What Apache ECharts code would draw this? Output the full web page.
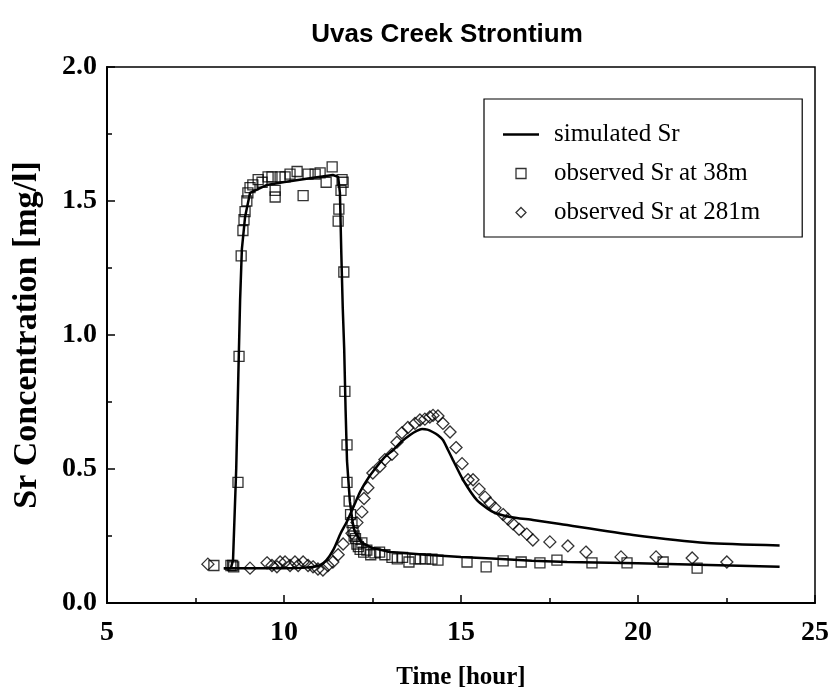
<!DOCTYPE html>
<html>
<head>
<meta charset="utf-8">
<script src="https://cdn.jsdelivr.net/npm/echarts@6/dist/echarts.min.js"></script>
<style>
  html, body { margin: 0; padding: 0; background: #fff; }
  #chart { width: 838px; height: 695px; }
</style>
</head>
<body>
<div id="chart"></div>
<script>
// simulated Sr at 38m
const sim38X = [8.3, 8.5, 8.56, 8.65, 8.71, 8.76, 8.81, 8.9, 9.04, 9.52, 9.97, 10.73, 11.38, 11.53, 11.58, 11.62, 11.66, 11.7, 11.74, 11.78, 11.86, 11.94, 12.0, 12.2, 12.5, 13.0, 14.0, 15.0, 16.0, 17.0, 18.0, 20.0, 22.0, 24.0]
const sim38Y = [0.13, 0.13, 0.16, 0.5, 0.85, 1.13, 1.32, 1.44, 1.53, 1.56, 1.57, 1.585, 1.597, 1.59, 1.53, 1.3, 1.1, 0.95, 0.72, 0.53, 0.38, 0.3, 0.265, 0.225, 0.205, 0.19, 0.18, 0.172, 0.165, 0.158, 0.153, 0.148, 0.142, 0.135]

// simulated Sr at 281m
const sim281X = [8.3, 10.0, 10.6, 11.0, 11.2, 11.4, 11.6, 11.8, 12.0, 12.15, 12.4, 12.63, 12.85, 13.08, 13.3, 13.56, 13.75, 13.9, 14.05, 14.2, 14.35, 14.49, 14.63, 14.77, 15.06, 15.45, 15.9, 16.38, 17.03, 17.8, 19.86, 21.95, 24.0]
const sim281Y = [0.13, 0.13, 0.132, 0.14, 0.16, 0.2, 0.26, 0.31, 0.37, 0.415, 0.47, 0.51, 0.545, 0.57, 0.6, 0.627, 0.642, 0.649, 0.647, 0.638, 0.626, 0.608, 0.572, 0.534, 0.459, 0.384, 0.34, 0.321, 0.31, 0.295, 0.254, 0.224, 0.215]

// observed Sr at 38m
const obs38X = [8.02, 8.5, 8.55, 8.58, 8.70, 8.73, 8.79, 8.84, 8.87, 8.90, 8.95, 8.98, 9.04, 9.12, 9.27, 9.38, 9.55, 9.66, 9.75, 9.75, 9.89, 10.03, 10.17, 10.37, 10.54, 10.68, 10.88, 11.02, 11.19, 11.36, 11.53, 11.55, 11.61, 11.64, 11.67, 11.69, 11.72, 11.78, 11.78, 11.84, 11.88, 11.92, 11.95, 11.98, 12.02, 12.06, 12.1, 12.15, 12.2, 12.25, 12.34, 12.45, 12.57, 12.7, 12.85, 13.05, 13.2, 13.35, 13.53, 13.7, 13.85, 14.0, 14.18, 14.35, 15.17, 15.71, 16.19, 16.7, 17.23, 17.71, 18.7, 19.69, 20.71, 21.67]
const obs38Y = [0.14, 0.14, 0.14, 0.135, 0.45, 0.92, 1.295, 1.39, 1.43, 1.46, 1.50, 1.53, 1.55, 1.56, 1.58, 1.57, 1.59, 1.59, 1.54, 1.515, 1.59, 1.59, 1.60, 1.61, 1.52, 1.60, 1.60, 1.605, 1.57, 1.627, 1.425, 1.47, 1.54, 1.58, 1.57, 1.235, 0.79, 0.59, 0.45, 0.38, 0.33, 0.3, 0.27, 0.25, 0.24, 0.22, 0.21, 0.2, 0.224, 0.19, 0.197, 0.18, 0.187, 0.19, 0.18, 0.17, 0.165, 0.17, 0.153, 0.165, 0.165, 0.165, 0.164, 0.16, 0.153, 0.135, 0.157, 0.153, 0.15, 0.16, 0.15, 0.15, 0.153, 0.13]

// observed Sr at 281m
const obs281X = [7.85, 9.04, 9.52, 9.66, 9.8, 9.89, 10.03, 10.17, 10.31, 10.4, 10.54, 10.68, 10.82, 10.96, 11.1, 11.24, 11.38, 11.53, 11.67, 11.92, 12.06, 12.2, 12.26, 12.37, 12.51, 12.71, 12.85, 13.05, 13.19, 13.33, 13.5, 13.7, 13.84, 13.98, 14.12, 14.21, 14.35, 14.49, 14.69, 14.86, 15.03, 15.2, 15.34, 15.51, 15.68, 15.82, 15.96, 16.19, 16.33, 16.47, 16.64, 16.86, 17.03, 17.51, 18.02, 18.53, 19.52, 20.51, 21.53, 22.51]
const obs281Y = [0.145, 0.13, 0.15, 0.14, 0.135, 0.153, 0.153, 0.14, 0.153, 0.14, 0.153, 0.14, 0.135, 0.127, 0.123, 0.14, 0.153, 0.18, 0.22, 0.26, 0.30, 0.34, 0.39, 0.43, 0.485, 0.51, 0.535, 0.555, 0.60, 0.635, 0.655, 0.67, 0.683, 0.686, 0.694, 0.70, 0.698, 0.67, 0.638, 0.58, 0.52, 0.46, 0.46, 0.425, 0.395, 0.373, 0.355, 0.33, 0.313, 0.295, 0.275, 0.257, 0.235, 0.228, 0.213, 0.19, 0.172, 0.172, 0.168, 0.153]

const pairs = (xs, ys) => xs.map((x, i) => [x, ys[i]])

const serif = 'Liberation Serif'
const hollow = { color: 'rgba(0,0,0,0)', borderColor: '#000', borderWidth: 1.3 }

const chart = echarts.init(document.getElementById('chart'))
chart.setOption({
  animation: false,
  backgroundColor: '#fff',
  title: {
    text: 'Uvas Creek Strontium',
    left: 442,
    top: 17,
    textAlign: 'center',
    textStyle: { fontFamily: 'Liberation Sans', fontWeight: 'bold', fontSize: 26, color: '#000' }
  },
  grid: {
    left: 107, right: 23, top: 67, bottom: 92,
    show: true, borderColor: '#000', borderWidth: 1.5
  },
  legend: {
    orient: 'vertical',
    left: 484, top: 99,
    padding: [23, 42, 12, 19],
    itemGap: 14,
    itemWidth: 36,
    itemHeight: 10,
    borderColor: '#000',
    borderWidth: 1.2,
    textStyle: { fontFamily: serif, fontSize: 25, color: '#000', padding: [0, 0, 0, 10] },
    data: [
      { name: 'simulated Sr', icon: 'path://M0,0L38,0L38,2.6L0,2.6Z', itemStyle: { color: '#000', borderWidth: 0 } },
      { name: 'observed Sr at 38m', icon: 'path://M0,0L9,0L9,9L0,9Z', itemStyle: hollow },
      { name: 'observed Sr at 281m', icon: 'path://M6,0L12,6L6,12L0,6Z', itemStyle: hollow }
    ]
  },
  xAxis: {
    type: 'value',
    min: 5, max: 25, interval: 5,
    name: 'Time [hour]',
    nameLocation: 'middle',
    nameGap: 62,
    nameTextStyle: { fontFamily: serif, fontWeight: 'bold', fontSize: 25, color: '#000' },
    axisLine: { lineStyle: { color: '#000', width: 2 } },
    axisTick: { inside: true, length: 8, lineStyle: { color: '#000', width: 1.5 } },
    minorTick: { show: true, splitNumber: 2, length: 5, lineStyle: { color: '#000', width: 1.5 } },
    axisLabel: { margin: 16, fontFamily: serif, fontWeight: 'bold', fontSize: 28, color: '#000' },
    splitLine: { show: false }
  },
  yAxis: {
    type: 'value',
    min: 0, max: 2, interval: 0.5,
    name: 'Sr Concentration [mg/l]',
    nameLocation: 'middle',
    nameGap: 63,
    nameTextStyle: { fontFamily: serif, fontWeight: 'bold', fontSize: 34, color: '#000' },
    axisLine: { show: true, lineStyle: { color: '#000', width: 2 } },
    axisTick: { inside: true, length: 8, lineStyle: { color: '#000', width: 1.5 } },
    minorTick: { show: true, splitNumber: 2, length: 5, lineStyle: { color: '#000', width: 1.5 } },
    axisLabel: { margin: 10, fontFamily: serif, fontWeight: 'bold', fontSize: 28, color: '#000',
      formatter: v => v.toFixed(1) },
    splitLine: { show: false }
  },
  series: [
    {
      name: 'simulated Sr', type: 'line', symbol: 'none',
      data: pairs(sim38X, sim38Y),
      lineStyle: { color: '#000', width: 2.5 }, itemStyle: { color: '#000' }, z: 3
    },
    {
      name: 'simulated Sr', type: 'line', symbol: 'none', smooth: 0.2,
      data: pairs(sim281X, sim281Y),
      lineStyle: { color: '#000', width: 2.5 }, itemStyle: { color: '#000' }, z: 3
    },
    {
      name: 'observed Sr at 38m', type: 'scatter', symbol: 'rect', symbolSize: 10,
      data: pairs(obs38X, obs38Y),
      itemStyle: hollow, z: 4
    },
    {
      name: 'observed Sr at 281m', type: 'scatter', symbol: 'diamond', symbolSize: 12,
      data: pairs(obs281X, obs281Y),
      itemStyle: hollow, z: 4
    }
  ]
})
window.addEventListener('resize', () => chart.resize())
</script>
</body>
</html>
